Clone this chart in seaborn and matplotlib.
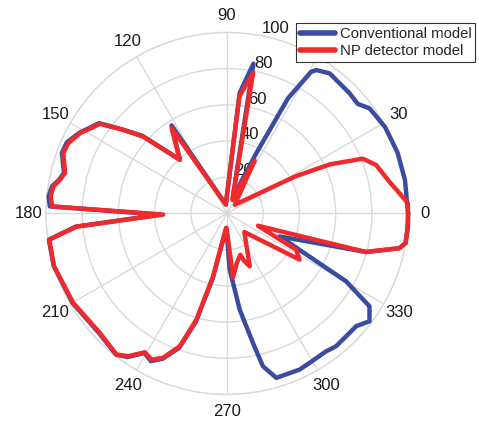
import numpy as np
import pandas as pd
import seaborn as sns
import matplotlib
matplotlib.use("Agg")
import matplotlib.pyplot as plt

# angle (deg) and radius
conv_theta = [0, 10.6, 19.6, 28.6, 36.4, 40, 44.5, 53.8, 58.1, 59.3, 62.1, 64.1, 65.5, 70,
              80, 84, 98, 122.2, 131.2, 137.5, 141.2, 144.8, 151.4, 156.1, 159.8, 166,
              168.6, 171.2, 174.5, 177.7, 181, 185, 188.4, 196.9, 210.2, 223.2, 231.9,
              235.3, 239.4, 242.7, 246.1, 250.4, 253.9, 257.5, 266, 268, 272.7, 277.5,
              281.3, 283.2, 286.7, 294.9, 298.9, 305.7, 309.4, 314.1, 318.9, 322.9,
              326.9, 330.3, 336.4, 344.5, 348.6, 350.6, 355.9, 360]
conv_r = [100, 100, 100, 99.5, 97.8, 94.2, 94.8, 95.9, 93.3, 91, 72, 37, 22, 9,
          84, 67, 5, 57.5, 39.5, 63.5, 74, 86.5, 93, 96.8, 97.2, 92.8,
          94.6, 97.8, 99, 98, 37, 84, 99.5, 100, 98.6, 96.8, 99.2,
          96.5, 89.5, 91.8, 87.8, 78.8, 62.5, 37, 9, 9, 31, 53.6,
          72.9, 86.7, 94.8, 95.1, 94.3, 93.8, 94.9, 94.5, 94.7, 98.7,
          93.9, 75.7, 31.7, 79.7, 97.1, 100, 100.2, 100]

np_theta = [0, 3.3, 6, 11, 18, 22, 25.5, 28.5, 31, 48, 62.5, 68, 79.5, 84, 98,
            123, 131.4, 137.5, 141.2, 144.8, 151.4, 156.1, 159.8, 166, 168.6, 171.2,
            174.5, 177.7, 181, 185, 188.4, 196.9, 210.2, 223.2, 231.9, 235.3, 239.4,
            242.7, 246.1, 250.4, 253.9, 257.5, 266, 268, 275.4, 281.5, 287.9, 289.5,
            293.2, 313, 327.5, 332.3, 338.3, 344.5, 348.6, 350.6, 355.9, 360]
np_r = [100, 100, 96.7, 91.4, 86.6, 80.8, 63, 43, 24.5, 6.5, 33, 8, 79, 65, 5,
        56.2, 39.5, 62.8, 73.6, 85.9, 92.5, 95.9, 96.4, 92.2, 94.1, 97.1,
        97.9, 96.6, 35.3, 83.4, 99.2, 100, 98.3, 96.4, 99, 95.9, 89.1,
        90.9, 87.2, 77.9, 61, 35.6, 8, 8, 35.3, 27.6, 24, 27.5,
        31.8, 14, 47.5, 43.2, 18.4, 79.7, 97.1, 100, 100, 100]

r_ticks = [20, 40, 60, 80, 100]
theta_ticks = list(range(0, 360, 30))

sns.set_style("white")
plt.rcParams['font.family'] = ['Liberation Sans', 'DejaVu Sans']

df = pd.concat([
    pd.DataFrame({'theta': np.deg2rad(conv_theta), 'r': conv_r, 'model': 'Conventional model'}),
    pd.DataFrame({'theta': np.deg2rad(np_theta), 'r': np_r, 'model': 'NP detector model'}),
], ignore_index=True)

fig = plt.figure(figsize=(4.79, 4.21), dpi=100)
ax = fig.add_axes([0.096, 0.063, 0.756, 0.86], projection='polar')

sns.lineplot(data=df, x='theta', y='r', hue='model', sort=False, estimator=None,
             palette={'Conventional model': '#3b4ca0', 'NP detector model': '#ee2a2c'},
             lw=3.2, ax=ax, legend=False)
for ln in ax.lines:
    ln.set_clip_on(False)
    ln.set_zorder(3)
    ln.set_solid_joinstyle('round')

ax.set_ylim(0, 100)
ax.set_rticks(r_ticks)
ax.set_rlabel_position(79)
ax.set_thetagrids(theta_ticks, labels=[str(t) for t in theta_ticks])
ax.set_xlabel('')
ax.set_ylabel('')
ax.grid(True, color='#d9d9d9', lw=1)
ax.spines['polar'].set_color('#d9d9d9')
ax.spines['polar'].set_linewidth(1)
ax.tick_params(axis='x', pad=2, labelsize=12, colors='#1a1a1a')
ax.tick_params(axis='y', labelsize=12, colors='#1a1a1a')

leg = ax.legend(handles=ax.lines[:2], labels=['Conventional model', 'NP detector model'],
                loc='upper right', bbox_to_anchor=(0.992, 0.945), bbox_transform=fig.transFigure,
                fancybox=False, framealpha=1, edgecolor='#333333', fontsize=10.7,
                handlelength=2.4, handletextpad=0.3, labelspacing=0.2, borderpad=0.25,
                borderaxespad=0)
leg.get_frame().set_linewidth(0.8)
for h in leg.get_lines():
    h.set_linewidth(4)

fig.savefig('out.png', dpi=100)
